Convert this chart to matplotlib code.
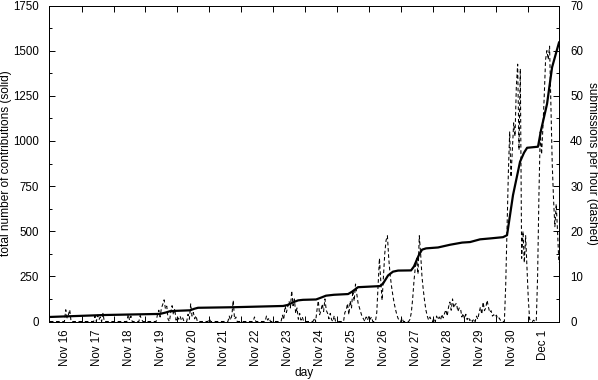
import numpy as np
import matplotlib
matplotlib.use("Agg")
import matplotlib.pyplot as plt
from matplotlib.ticker import MultipleLocator, FixedLocator

plt.rcParams['font.family'] = ['Liberation Sans', 'DejaVu Sans']

# ---- data ----
day_labels = ["Nov 16", "Nov 17", "Nov 18", "Nov 19", "Nov 20", "Nov 21", "Nov 22",
              "Nov 23", "Nov 24", "Nov 25", "Nov 26", "Nov 27", "Nov 28", "Nov 29",
              "Nov 30", "Dec 1"]

# cumulative contributions: time (hours since Nov 16 00:00) and total
total_hours = [-0.6, 41.5, 82.9, 87.4, 90.4, 94.9, 105.5, 108.5, 111.5, 137.8, 175.5,
               179.2, 183.0, 186.8, 190.5, 200.3, 203.3, 207.8, 213.8, 224.4, 227.4,
               231.9, 248.4, 250.7, 254.5, 258.2, 262.0, 271.8, 274.0, 277.8, 280.1,
               283.1, 292.1, 301.1, 310.2, 316.2, 323.7, 331.2, 341.0, 344.0, 348.5,
               353.8, 356.8, 359.1, 367.3, 369.6, 374.1, 377.9, 383.1]
total_values = [25, 36, 42, 50, 57, 59, 62, 70, 76, 79, 86,
                92, 106, 117, 120, 122, 130, 143, 148, 152, 165,
                190, 196, 210, 255, 276, 282, 283, 305, 370, 398,
                405, 410, 425, 437, 440, 455, 460, 467, 478, 700,
                885, 935, 962, 968, 1060, 1205, 1408, 1545]

# submissions per hour, one list of 24 hourly values per day
nov16 = [0, 0, 0, 0, 0, 0, 0, 0, 0, 0, 0, 0, 2.6, 0.8, 1.5, 2.6, 0, 0, 0, 0, 0, 0, 0, 0]
nov17 = [0, 0, 0, 0, 0, 0, 0, 0, 0, 0, 1.2, 0, 1.4, 0.4, 1.0, 0, 1.8, 0, 0, 0, 0, 0, 0, 0]
nov18 = [0, 0, 0, 0, 0, 0, 0, 0, 0, 0, 0, 1.6, 0.3, 1.2, 0, 0, 0, 0, 0, 0, 1.3, 0.5, 0, 0]
nov19 = [0, 0, 0, 0, 0, 0, 0, 0, 0, 1.5, 2.5, 1.0, 3.0, 3.8, 4.8, 2.8, 3.4, 0.5, 0, 2.0, 3.5, 1.5, 2.8, 0.3]
nov20 = [1.0, 0.5, 1.2, 0.3, 0.8, 0, 0, 0, 1.6, 0.5, 3.9, 1.2, 2.0, 0.6, 1.3, 0, 0, 0, 0, 0, 0, 0, 0, 0]
nov21 = [0.6, 0, 0, 0, 0, 0, 0, 0, 0, 0, 0, 0, 0, 0, 0, 1.2, 0.3, 1.4, 4.7, 0.5, 1.0, 0, 0, 0]
nov22 = [0, 0, 0, 0, 0, 0, 0, 0, 0, 0, 1.0, 0, 0, 0, 0, 0, 0, 0, 0, 1.2, 0.3, 0.8, 0, 0]
nov23 = [0, 0, 0, 0, 0, 0, 0, 1.4, 0.4, 3.5, 2.0, 3.2, 4.5, 3.0, 6.8, 3.5, 5.0, 1.8, 3.0, 0.5, 1.8, 0.3, 1.0, 0]
nov24 = [0, 0, 0, 0, 0, 0, 0, 0.8, 0, 2.5, 4.6, 1.5, 2.4, 3.9, 2.2, 5.0, 2.5, 1.8, 0.6, 1.8, 0.4, 0, 1.3, 0]
nov25 = [0, 0, 0, 0, 0, 0, 2.0, 2.5, 4.0, 1.5, 4.6, 3.0, 6.9, 4.5, 8.3, 6.0, 4.0, 3.0, 2.0, 1.0, 0.6, 0, 1.0, 0.3]
nov26 = [1.2, 0.5, 1.0, 0, 0, 0, 2.0, 8.0, 14.0, 9.0, 4.7, 10.0, 15.0, 18.0, 19.0, 14.0, 10.5, 8.0, 6.0, 4.2, 2.8, 1.6, 0.7, 0.2]
nov27 = [0, 0.8, 0, 0, 0, 0, 0, 0.5, 2.0, 5.0, 9.0, 12.0, 14.0, 10.5, 19.0, 15.0, 10.0, 7.0, 4.5, 2.5, 1.2, 0.3, 1.0, 0.3]
nov28 = [0, 0.8, 0, 1.2, 0.4, 1.0, 0.3, 1.6, 0.8, 1.8, 2.6, 1.2, 3.2, 4.3, 2.5, 5.0, 3.0, 3.8, 4.0, 2.2, 3.0, 2.9, 1.0, 1.8]
nov29 = [0.6, 1.6, 0.4, 1.0, 0.2, 0.6, 0, 0.6, 0, 1.2, 0.5, 2.0, 3.2, 1.6, 4.3, 2.4, 3.0, 4.7, 3.2, 2.0, 2.4, 1.2, 1.5, 1.0]
nov30 = [1.4, 0.6, 0.8, 0.3, 0.3, 0, 0, 8.0, 20.0, 33.0, 42.0, 32.0, 38.0, 44.0, 41.0, 52.0, 57.0, 38.0, 56.0, 14.0, 20.0, 13.0, 19.0, 12.0]
dec01 = [5.0, 0.5, 0, 0, 0.3, 0, 0, 10.0, 28.0, 42.0, 37.0, 43.0, 50.0, 58.0, 60.0, 58.0, 61.0, 48.0, 35.0, 27.0, 21.0, 26.0, 20.0, 13.0]

per_hour = np.concatenate([nov16, nov17, nov18, nov19, nov20, nov21, nov22, nov23,
                           nov24, nov25, nov26, nov27, nov28, nov29, nov30, dec01])
hours = np.arange(len(per_hour))

# ---- figure ----
fig = plt.figure(figsize=(5.98, 3.80), dpi=100)
ax = fig.add_axes([49 / 598, 1 - 321.5 / 380, 510 / 598, 316 / 380])
ax2 = ax.twinx()

ax.plot(total_hours, total_values, color='black', lw=1.6, solid_joinstyle='round', zorder=3)
ax2.plot(hours, per_hour, color='black', lw=0.75, dashes=(3.5, 2.5), zorder=2)

ax.set_xlim(-0.6, 383.1)
ax.set_ylim(0, 1750)
ax2.set_ylim(0, 70)

TS = 8.3   # tick label size
LS = 8.6   # axis label size

# x ticks: day boundaries (ticks), labels at mid-day
ax.xaxis.set_major_locator(FixedLocator([24 * k + 11.4 for k in range(16)]))
ax.set_xticklabels(day_labels, rotation=90, fontsize=TS)
ax.xaxis.set_minor_locator(FixedLocator([24 * k for k in range(1, 16)]))
ax.tick_params(axis='x', which='major', length=0, pad=6)
ax.tick_params(axis='x', which='minor', direction='in', length=4, width=0.7, top=True, bottom=True)

ax.yaxis.set_major_locator(MultipleLocator(250))
ax.yaxis.set_minor_locator(MultipleLocator(125))
ax.tick_params(axis='y', which='major', direction='in', length=4, width=0.7, labelsize=TS, pad=7)
ax.tick_params(axis='y', which='minor', direction='in', length=2, width=0.7)

ax2.yaxis.set_major_locator(MultipleLocator(10))
ax2.yaxis.set_minor_locator(MultipleLocator(5))
ax2.tick_params(axis='y', which='major', direction='in', length=4, width=0.7, labelsize=TS, pad=8)
ax2.tick_params(axis='y', which='minor', direction='in', length=2, width=0.7)

for a in (ax, ax2):
    for s in a.spines.values():
        s.set_linewidth(0.7)

ax.set_ylabel("total number of contributions (solid)", fontsize=LS, va='center')
ax.yaxis.set_label_coords(-43 / 510, 0.5)
ax2.set_ylabel("submissions per hour (dashed)", fontsize=LS, rotation=270, va='center')
ax2.yaxis.set_label_coords(1 + 33 / 510, 0.5)
ax.set_xlabel("day", fontsize=LS, va='center')
ax.xaxis.set_label_coords(0.5, -51.5 / 316)

fig.savefig("out.png", dpi=100)
